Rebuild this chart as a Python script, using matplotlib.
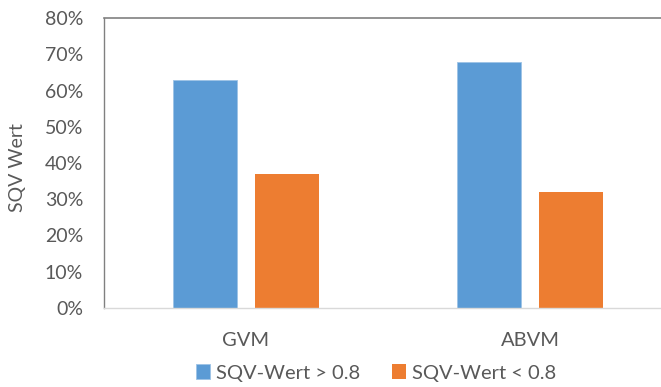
import matplotlib.pyplot as plt
import numpy as np
from matplotlib.ticker import PercentFormatter

categories = ["GVM", "ABVM"]
above = [63, 68]
below = [37, 32]
series_names = ["SQV-Wert > 0.8", "SQV-Wert < 0.8"]
yticks = [0, 10, 20, 30, 40, 50, 60, 70, 80]

plt.rcParams["font.family"] = ["Lato", "DejaVu Sans"]
text_col = "#595959"

fig = plt.figure(figsize=(6.61, 3.87), dpi=100)
ax = fig.add_axes([104 / 661, 79 / 387, 568 / 661, 290 / 387])

x = np.arange(len(categories))
w = 0.225
gap = 0.0634
ax.bar(x - (w + gap) / 2, above, w, color="#5b9bd5", label=series_names[0],
       edgecolor="#9dc3e6", linewidth=0.6)
ax.bar(x + (w + gap) / 2, below, w, color="#ed7d31", label=series_names[1])

ax.set_xlim(-0.5, 1.5)
ax.set_ylim(0, 80)
ax.set_yticks(yticks)
ax.yaxis.set_major_formatter(PercentFormatter(decimals=0))
ax.set_xticks(x)
ax.set_xticklabels(categories)
ax.tick_params(axis="x", length=0, pad=17, labelsize=14.5, colors=text_col)
ax.tick_params(axis="y", length=0, pad=15, labelsize=14, colors=text_col)
fig.text(18 / 661, 1 - 168 / 387, "SQV Wert", rotation=90, ha="center",
         va="center", fontsize=14, color=text_col)

ax.spines["right"].set_visible(False)
ax.spines["left"].set_color("#808080")
ax.spines["top"].set_color("#808080")
ax.spines["left"].set_linewidth(1.0)
ax.spines["top"].set_linewidth(1.2)
ax.spines["bottom"].set_color("#d9d9d9")
ax.spines["bottom"].set_linewidth(1.0)

fig.legend(loc="center", bbox_to_anchor=(376 / 661, 1 - 373 / 387), ncol=2,
           frameon=False, fontsize=14.5, labelcolor=text_col, handlelength=0.7,
           handleheight=0.7, handletextpad=0.3, columnspacing=1.6,
           borderpad=0)

fig.savefig("out.png", dpi=100)
